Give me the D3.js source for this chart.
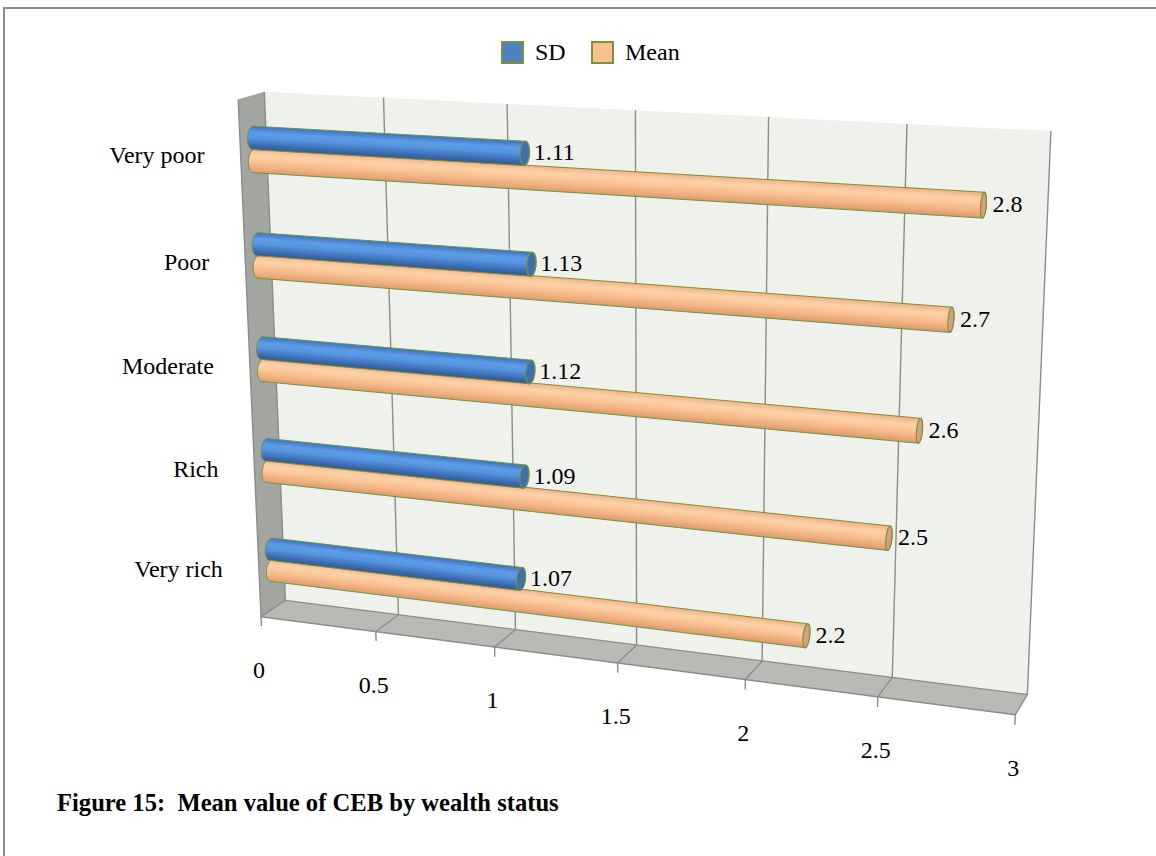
<!DOCTYPE html>
<html>
<head>
<meta charset="utf-8">
<script src="https://cdn.jsdelivr.net/npm/d3@7"></script>
<style>
  body { margin: 0; background: #fff; }
  svg { display: block; }
  text { font-family: "Liberation Serif", "Times New Roman", serif; fill: #000; }
</style>
</head>
<body>
<svg id="chart" width="1156" height="856"></svg>
<script>
// ---- data ----
const categories = ["Very poor", "Poor", "Moderate", "Rich", "Very rich"];
const seriesNames = ["SD", "Mean"];
const sdValues = [1.11, 1.13, 1.12, 1.09, 1.07];
const meanValues = [2.8, 2.7, 2.6, 2.5, 2.2];
const valueTicks = [0, 0.5, 1, 1.5, 2, 2.5, 3];
const titleText = "Figure 15:  Mean value of CEB by wealth status";

// ---- scales (world box: value 0..1, height 0..1, depth 0 = back wall, 1 = front edge) ----
const x = d3.scaleLinear().domain([0, 3]).range([0, 1]);
const yCat = d3.scaleBand().domain(categories).range([1, 0]);
const R = 0.0215;   // cylinder radius (height units)
const RZ = 0.22;    // cylinder radius (depth units)
const ZC = 0.5;     // depth of the bar axis
const ySeries = d3.scaleBand().domain(seriesNames).range([2 * R, -2 * R]);
const seriesColor = {
  SD:   { stops: ["#3c70b4", "#5d9de8", "#5595e0", "#3b6db4", "#2d5a96"], cap: "#3f6fae", legend: "#4f81bd" },
  Mean: { stops: ["#eeb083", "#fdd2aa", "#fac596", "#eeac7c", "#d99565"], cap: "#d7a07b", legend: "#fac090" }
};
const outline = "#77933c";
const serif = "'Liberation Serif', 'Times New Roman', serif";

// ---- perspective camera fitted to the plot box outline ----
const boxAnchors = [
  { v: 0,   h: 1, d: 0, p: [265, 92] },
  { v: 0.5, h: 1, d: 0, p: [383, 99] },
  { v: 1,   h: 1, d: 0, p: [507, 104] },
  { v: 2.5, h: 1, d: 0, p: [907, 124] },
  { v: 3,   h: 1, d: 0, p: [1051, 131] },
  { v: 0,   h: 0, d: 0, p: [285, 600] },
  { v: 0.5, h: 0, d: 0, p: [398, 615] },
  { v: 1,   h: 0, d: 0, p: [515, 628] },
  { v: 2,   h: 0, d: 0, p: [762, 662] },
  { v: 2.5, h: 0, d: 0, p: [892, 678] },
  { v: 3,   h: 0, d: 0, p: [1029, 693] },
  { v: 0,   h: 1, d: 1, p: [238, 98] },
  { v: 0,   h: 0, d: 1, p: [261, 617] },
  { v: 0.5, h: 0, d: 1, p: [377, 632] },
  { v: 1,   h: 0, d: 1, p: [495, 647] },
  { v: 2,   h: 0, d: 1, p: [745, 680] },
  { v: 2.5, h: 0, d: 1, p: [878, 698] },
  { v: 3,   h: 0, d: 1, p: [1014, 714] }
];

function solveLinear(A, b) {
  const n = b.length;
  const M = A.map((row, i) => row.concat([b[i]]));
  for (let c = 0; c < n; c++) {
    let piv = c;
    for (let r = c + 1; r < n; r++) if (Math.abs(M[r][c]) > Math.abs(M[piv][c])) piv = r;
    [M[c], M[piv]] = [M[piv], M[c]];
    for (let r = 0; r < n; r++) {
      if (r === c) continue;
      const f = M[r][c] / M[c][c];
      for (let k = c; k <= n; k++) M[r][k] -= f * M[c][k];
    }
  }
  return M.map((row, i) => row[n] / row[i]);
}

function fitCamera(anchors) {
  const S = 1000;
  const n = 11;
  const A = Array.from({ length: n }, () => new Array(n).fill(0));
  const b = new Array(n).fill(0);
  const add = (row, val) => {
    for (let i = 0; i < n; i++) {
      b[i] += row[i] * val;
      for (let j = 0; j < n; j++) A[i][j] += row[i] * row[j];
    }
  };
  anchors.forEach(a => {
    const X = x(a.v), Y = a.h, Z = a.d, u = a.p[0] / S, w = a.p[1] / S;
    add([X, Y, Z, 1, 0, 0, 0, 0, -u * X, -u * Y, -u * Z], u);
    add([0, 0, 0, 0, X, Y, Z, 1, -w * X, -w * Y, -w * Z], w);
  });
  const p = solveLinear(A, b);
  return (X, Y, Z) => {
    const den = p[8] * X + p[9] * Y + p[10] * Z + 1;
    return [S * (p[0] * X + p[1] * Y + p[2] * Z + p[3]) / den,
            S * (p[4] * X + p[5] * Y + p[6] * Z + p[7]) / den];
  };
}
const project = fitCamera(boxAnchors);
const P = (v, h, d) => project(x(v), h, d);

// ---- drawing ----
const svg = d3.select("#chart");
const defs = svg.append("defs");
const line = d3.line();
const poly = pts => "M" + pts.map(q => q.join(",")).join("L") + "Z";

// outer frame
svg.append("rect").attr("x", 4).attr("y", 8).attr("width", 1170).attr("height", 870)
  .attr("fill", "none").attr("stroke", "#8a8a8a").attr("stroke-width", 2);

// walls and floor
const walls = svg.append("g");
walls.append("path").attr("d", poly([P(0, 1, 0), P(3, 1, 0), P(3, 0, 0), P(0, 0, 0)]))
  .attr("fill", "#eef1ec");
walls.append("path").attr("d", poly([P(0, 1, 0), P(0, 1, 1), P(0, 0, 1), P(0, 0, 0)]))
  .attr("fill", "#a3a5a0");
walls.append("path").attr("d", poly([P(0, 0, 0), P(3, 0, 0), P(3, 0, 1), P(0, 0, 1)]))
  .attr("fill", "#b8bbb5");

// grid lines on the back wall and floor, tick marks at the front edge
const grid = svg.append("g").attr("stroke", "#8c8c8c").attr("stroke-width", 1.4).attr("fill", "none");
valueTicks.forEach(t => {
  grid.append("path").attr("d", line([P(t, 1, 0), P(t, 0, 0), P(t, 0, 1), P(t, -0.019, 1)]));
});
grid.append("path").attr("d", line([P(0, 0, 0), P(3, 0, 0)]));
grid.append("path").attr("d", line([P(0, 0, 1), P(3, 0, 1)]));
grid.append("path").attr("d", line([P(0, 1, 1), P(0, 0, 1)]));

// value axis labels
svg.append("g").selectAll("text").data(valueTicks).join("text")
  .attr("x", t => P(t, 0, 1)[0] - 2)
  .attr("y", t => P(t, 0, 1)[1] + 53)
  .attr("text-anchor", "middle").attr("dominant-baseline", "central")
  .attr("font-family", serif).attr("font-size", 24)
  .text(t => String(t));

// category labels
svg.append("g").selectAll("text").data(categories).join("text")
  .attr("x", c => P(0, yCat(c) + yCat.bandwidth() / 2, 1)[0] - 36)
  .attr("y", c => P(0, yCat(c) + yCat.bandwidth() / 2, 1)[1] + 1)
  .attr("text-anchor", "end").attr("dominant-baseline", "central")
  .attr("font-family", serif).attr("font-size", 24)
  .text(c => c);

// cylinders
function disk(v, yc) {
  return d3.range(64).map(i => {
    const t = i / 64 * 2 * Math.PI;
    return P(v, yc + R * Math.cos(t), ZC + RZ * Math.sin(t));
  });
}
const barsG = svg.append("g");
const labelsG = svg.append("g");
const bars = [];
categories.forEach((c, i) => {
  // draw the lower series first so the upper cylinder sits over it
  [["Mean", meanValues[i]], ["SD", sdValues[i]]].forEach(([s, val]) => {
    bars.push({ c, i, s, val, yc: yCat(c) + yCat.bandwidth() / 2 + ySeries(s) + ySeries.bandwidth() / 2 });
  });
});
bars.forEach((b, k) => {
  const start = disk(0, b.yc), end = disk(b.val, b.yc);
  const hull = d3.polygonHull(start.concat(end));
  const a0 = P(0, b.yc, ZC), a1 = P(b.val, b.yc, ZC);
  const dx = a1[0] - a0[0], dy = a1[1] - a0[1], len = Math.hypot(dx, dy);
  const nx = -dy / len, ny = dx / len;
  const mid = [(a0[0] + a1[0]) / 2, (a0[1] + a1[1]) / 2];
  const proj = hull.map(q => (q[0] - mid[0]) * nx + (q[1] - mid[1]) * ny);
  const lo = d3.min(proj), hi = d3.max(proj);
  const id = "grad" + k;
  const col = seriesColor[b.s];
  const g = defs.append("linearGradient").attr("id", id).attr("gradientUnits", "userSpaceOnUse")
    .attr("x1", mid[0] + nx * lo).attr("y1", mid[1] + ny * lo)
    .attr("x2", mid[0] + nx * hi).attr("y2", mid[1] + ny * hi);
  [0, 0.28, 0.5, 0.8, 1].forEach((o, j) => g.append("stop").attr("offset", o).attr("stop-color", col.stops[j]));
  barsG.append("path").attr("d", poly(hull)).attr("fill", `url(#${id})`)
    .attr("stroke", outline).attr("stroke-width", 1);
  barsG.append("path").attr("d", poly(end)).attr("fill", col.cap)
    .attr("stroke", outline).attr("stroke-width", 1.2);
  const capC = P(b.val, b.yc, ZC);
  labelsG.append("text")
    .attr("x", capC[0] + 9).attr("y", capC[1] - 1)
    .attr("dominant-baseline", "central")
    .attr("font-family", serif).attr("font-size", 24)
    .text(b.val);
});

// legend
const legend = svg.append("g");
const legendItems = [{ s: "SD", x: 502, tx: 535 }, { s: "Mean", x: 592, tx: 625 }];
legendItems.forEach(it => {
  legend.append("rect").attr("x", it.x).attr("y", 42).attr("width", 21).attr("height", 21)
    .attr("fill", seriesColor[it.s].legend).attr("stroke", outline).attr("stroke-width", 2);
  legend.append("text").attr("x", it.tx).attr("y", 60)
    .attr("font-family", serif).attr("font-size", 24).text(it.s);
});

// caption
svg.append("text").attr("x", 57).attr("y", 811)
  .attr("font-family", serif).attr("font-size", 24.6).attr("font-weight", "bold")
  .attr("xml:space", "preserve").style("white-space", "pre")
  .text(titleText);
</script>
</body>
</html>
